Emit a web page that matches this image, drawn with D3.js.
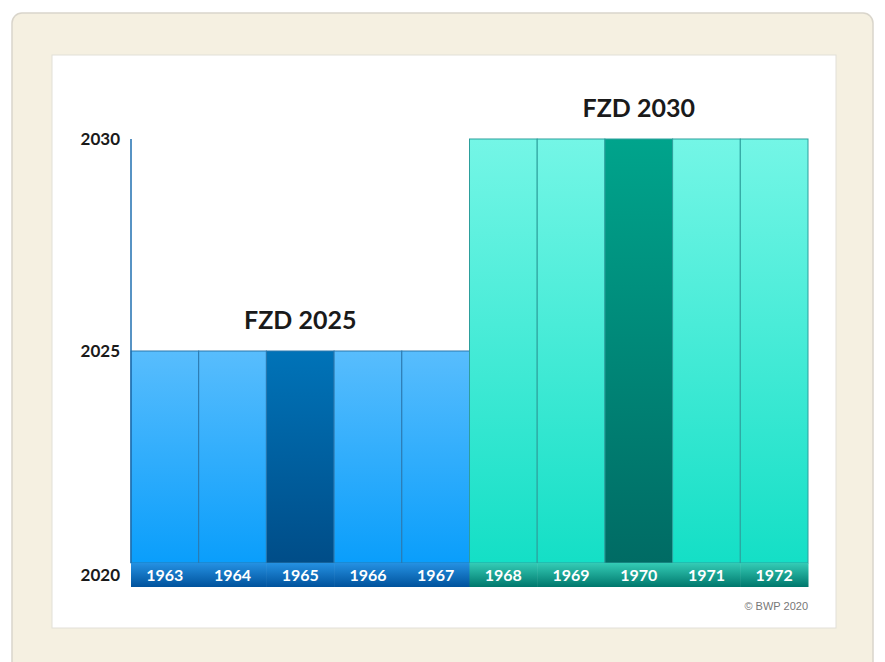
<!DOCTYPE html>
<html>
<head>
<meta charset="utf-8">
<script src="https://cdn.jsdelivr.net/npm/d3@7"></script>
<style>
  body { margin: 0; background: #ffffff; }
  svg { display: block; }
</style>
</head>
<body>
<div class="chart"></div>
<script>
// data
const years = ["1963", "1964", "1965", "1966", "1967", "1968", "1969", "1970", "1971", "1972"];
const fzdValues = [2025, 2025, 2025, 2025, 2025, 2030, 2030, 2030, 2030, 2030];
const groupOf = ["b", "b", "bd", "b", "b", "t", "t", "td", "t", "t"];
const yTicks = [2020, 2025, 2030];
const groupLabels = [
  { text: "FZD 2025", from: "1963", to: "1967", value: 2025 },
  { text: "FZD 2030", from: "1968", to: "1972", value: 2030 }
];

const W = 885, H = 662;
const svg = d3.select(".chart").append("svg")
  .attr("width", W).attr("height", H);

const defs = svg.append("defs");
function grad(id, top, bottom) {
  const g = defs.append("linearGradient").attr("id", id)
    .attr("x1", 0).attr("y1", 0).attr("x2", 0).attr("y2", 1);
  g.append("stop").attr("offset", "0%").attr("stop-color", top);
  g.append("stop").attr("offset", "100%").attr("stop-color", bottom);
}
grad("b", "#58bdfd", "#0a9efb");
grad("bd", "#0073b8", "#004d88");
grad("t", "#74f6e6", "#14dfc6");
grad("td", "#00a48c", "#006b64");
grad("bandB", "#2591e2", "#00529c");
grad("bandT", "#34ccb6", "#00776c");

// paper frame
svg.append("rect")
  .attr("x", 12).attr("y", 13).attr("width", 861).attr("height", 670)
  .attr("rx", 10)
  .attr("fill", "#f5f0e1")
  .attr("stroke", "#d9d5cb").attr("stroke-width", 1.5);
svg.append("rect")
  .attr("x", 52).attr("y", 55).attr("width", 784).attr("height", 573)
  .attr("fill", "#ffffff")
  .attr("stroke", "#e2dfd8").attr("stroke-width", 1);

const left = 131, right = 808;

const x = d3.scaleBand().domain(years).range([left, right]).padding(0);
const y = d3.scaleLinear().domain([2020, 2030]).range([563, 139]);

const g = svg.append("g");

// bars
g.selectAll(".bar")
  .data(years)
  .enter().append("rect")
  .attr("class", "bar")
  .attr("x", d => x(d))
  .attr("y", (d, i) => y(fzdValues[i]))
  .attr("width", x.bandwidth())
  .attr("height", (d, i) => y(2020) - y(fzdValues[i]))
  .attr("fill", (d, i) => "url(#" + groupOf[i] + ")")
  .attr("stroke", (d, i) => groupOf[i][0] == "b" ? "#2a78ae" : "#2c9f9c")
  .attr("stroke-width", 1);

// year band under the bars
const bandTop = y(2020), bandH = 24;
g.selectAll(".band")
  .data(years)
  .enter().append("rect")
  .attr("class", "band")
  .attr("x", d => x(d))
  .attr("y", bandTop)
  .attr("width", x.bandwidth() + 0.5)
  .attr("height", bandH)
  .attr("fill", (d, i) => groupOf[i][0] == "b" ? "url(#bandB)" : "url(#bandT)");

g.selectAll(".yearLabel")
  .data(years)
  .enter().append("text")
  .attr("class", "yearLabel")
  .attr("x", d => x(d) + x.bandwidth() / 2)
  .attr("y", bandTop + bandH / 2)
  .attr("dy", "0.36em")
  .attr("text-anchor", "middle")
  .attr("font-family", "Lato, 'DejaVu Sans', sans-serif")
  .attr("font-weight", "bold")
  .attr("font-size", 16)
  .attr("fill", "#ffffff")
  .text(d => d);

// y axis line
g.append("line")
  .attr("x1", left).attr("x2", left)
  .attr("y1", y(2030)).attr("y2", y(2020))
  .attr("stroke", "#1f6fb0").attr("stroke-width", 1.5);

// y tick labels (the 2020 one sits inside the year band)
g.selectAll(".yLabel")
  .data(yTicks)
  .enter().append("text")
  .attr("class", "yLabel")
  .attr("x", 120)
  .attr("y", d => d == 2020 ? bandTop + bandH / 2 : y(d))
  .attr("dy", "0.36em")
  .attr("text-anchor", "end")
  .attr("font-family", "Lato, 'DejaVu Sans', sans-serif")
  .attr("font-weight", "bold")
  .attr("font-size", 17)
  .attr("fill", "#1a1a1a")
  .text(d => d);

// group titles
g.selectAll(".groupLabel")
  .data(groupLabels)
  .enter().append("text")
  .attr("class", "groupLabel")
  .attr("x", d => (x(d.from) + x(d.to) + x.bandwidth()) / 2)
  .attr("y", d => y(d.value) - 22)
  .attr("text-anchor", "middle")
  .attr("font-family", "Lato, 'DejaVu Sans', sans-serif")
  .attr("font-weight", "bold")
  .attr("font-size", 25)
  .attr("fill", "#1a1a1a")
  .text(d => d.text);

// credit
g.append("text")
  .attr("x", right).attr("y", 610)
  .attr("text-anchor", "end")
  .attr("font-family", "'Liberation Sans', Arial, sans-serif")
  .attr("font-size", 11)
  .attr("fill", "#777777")
  .text("© BWP 2020");
</script>
</body>
</html>
